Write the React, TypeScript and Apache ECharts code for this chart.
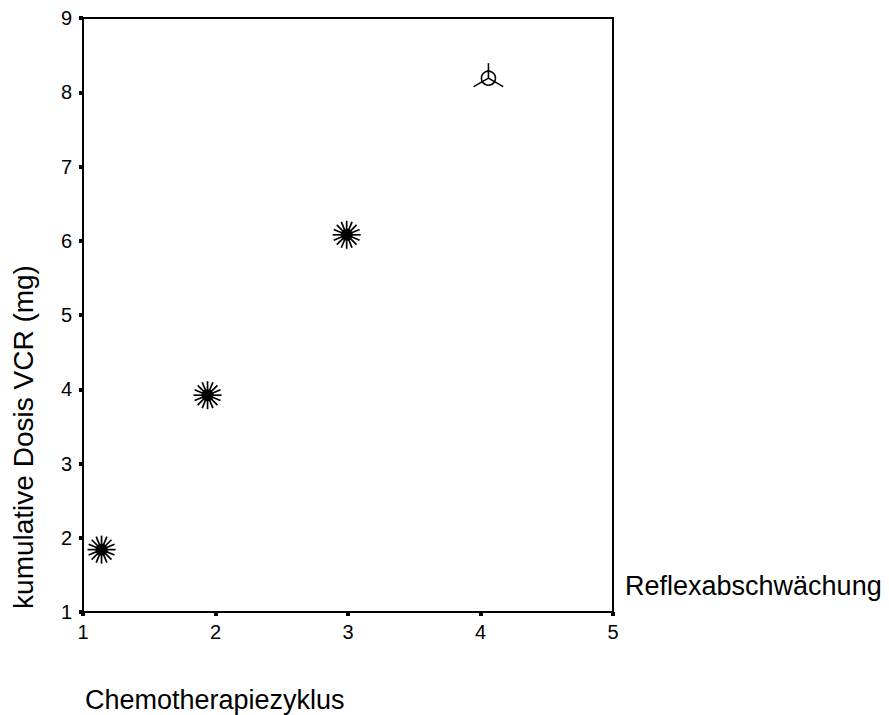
import React, { useEffect, useRef } from "react";
import * as echarts from "echarts";

const xTicks = [1, 2, 3, 4, 5];
const yTicks = [1, 2, 3, 4, 5, 6, 7, 8, 9];
const starPoints: number[][] = [
  [1.14, 1.84],
  [1.94, 3.92],
  [2.99, 6.08],
];
const triPoints: number[][] = [[4.06, 8.19]];
const xTitle = "Chemotherapiezyklus";
const yTitle = "kumulative Dosis VCR (mg)";
const legendTitle = "Reflexabschwächung";

const FONT = "'Liberation Sans', Arial, sans-serif";

export default function App() {
  const ref = useRef<HTMLDivElement>(null);
  useEffect(() => {
    if (!ref.current) return;
    const chart = echarts.init(ref.current, null, { renderer: "svg" });
    const starRender = (params: any, api: any) => {
      const c = api.coord([api.value(0), api.value(1)]);
      const children: any[] = [];
      const n = 16;
      for (let k = 0; k < n; k++) {
        const a = (k * Math.PI * 2) / n;
        children.push({
          type: "line",
          shape: { x1: c[0], y1: c[1], x2: c[0] + 14 * Math.cos(a), y2: c[1] + 14 * Math.sin(a) },
          style: { stroke: "#000", lineWidth: 1.7 },
        });
      }
      children.push({ type: "circle", shape: { cx: c[0], cy: c[1], r: 6 }, style: { fill: "#000" } });
      return { type: "group", children };
    };
    const triRender = (params: any, api: any) => {
      const c = api.coord([api.value(0), api.value(1)]);
      const children: any[] = [];
      const angles = [-Math.PI / 2, Math.PI / 6, (5 * Math.PI) / 6];
      const lens = [15, 17, 17];
      angles.forEach((a, i) => {
        children.push({
          type: "line",
          shape: { x1: c[0], y1: c[1], x2: c[0] + lens[i] * Math.cos(a), y2: c[1] + lens[i] * Math.sin(a) },
          style: { stroke: "#000", lineWidth: 1.6 },
        });
      });
      children.push({
        type: "circle",
        shape: { cx: c[0], cy: c[1], r: 7 },
        style: { fill: "none", stroke: "#000", lineWidth: 1.6 },
      });
      return { type: "group", children };
    };
    chart.setOption({
      animation: false,
      backgroundColor: "#fff",
      grid: {
        left: 83,
        right: 276,
        top: 18,
        bottom: 103,
        show: true,
        borderColor: "#000",
        borderWidth: 2,
        backgroundColor: "transparent",
      },
      xAxis: {
        type: "value",
        min: 1,
        max: 5,
        interval: 1,
        axisLine: { show: true, onZero: false, lineStyle: { color: "#000", width: 2 } },
        axisTick: { show: true, length: 4, lineStyle: { color: "#000", width: 4 } },
        axisLabel: {
          color: "#000",
          fontSize: 20,
          fontFamily: FONT,
          margin: 10,
          formatter: (v: number) => (xTicks.includes(v) ? String(v) : ""),
        },
        splitLine: { show: false },
      },
      yAxis: {
        type: "value",
        min: 1,
        max: 9,
        interval: 1,
        axisLine: { show: true, onZero: false, lineStyle: { color: "#000", width: 2 } },
        axisTick: { show: true, length: 4, lineStyle: { color: "#000", width: 4 } },
        axisLabel: {
          color: "#000",
          fontSize: 20,
          fontFamily: FONT,
          margin: 11,
          formatter: (v: number) => (yTicks.includes(v) ? String(v) : ""),
        },
        splitLine: { show: false },
      },
      graphic: [
        {
          type: "text",
          x: 23,
          y: 437,
          rotation: Math.PI / 2,
          style: {
            text: yTitle,
            fill: "#000",
            font: `28px ${FONT}`,
            textAlign: "center",
            textVerticalAlign: "middle",
          },
        },
        {
          type: "text",
          x: 85,
          y: 700,
          style: {
            text: xTitle,
            fill: "#000",
            font: `27px ${FONT}`,
            textAlign: "left",
            textVerticalAlign: "middle",
          },
        },
        {
          type: "text",
          x: 625,
          y: 586,
          style: {
            text: legendTitle,
            fill: "#000",
            font: `27px ${FONT}`,
            textAlign: "left",
            textVerticalAlign: "middle",
          },
        },
      ],
      series: [
        { type: "custom", name: "a", data: starPoints, renderItem: starRender, clip: false },
        { type: "custom", name: "b", data: triPoints, renderItem: triRender, clip: false },
      ],
    });
    return () => chart.dispose();
  }, []);
  return <div ref={ref} style={{ width: 889, height: 715, position: "absolute", left: 0, top: 0 }} />;
}
